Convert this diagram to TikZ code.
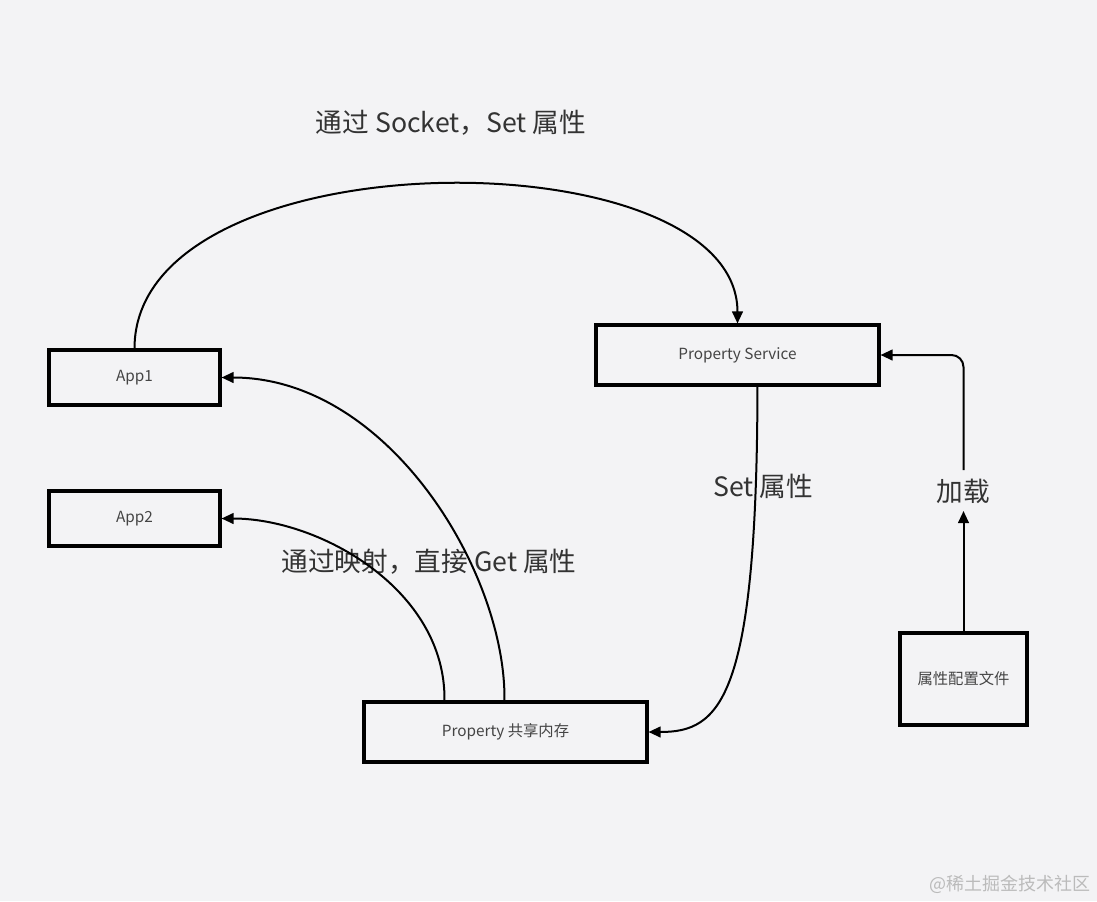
\documentclass[tikz,border=0pt]{standalone}
\usepackage{fontspec}
\setmainfont{Noto Sans CJK SC}
\usetikzlibrary{arrows.meta,calc}
\definecolor{bgc}{HTML}{F3F3F5}
\definecolor{txt}{HTML}{333333}
\definecolor{boxtxt}{HTML}{444444}
\definecolor{wm}{HTML}{BBBBBB}
\tikzset{
  box/.style={draw=black, line width=2.3pt, fill=bgc, inner sep=0pt, text=boxtxt,
    font=\fontsize{11.5}{14}\selectfont},
  biglabel/.style={text=txt, inner sep=0pt, font=\fontsize{20}{24}\selectfont},
  conn/.style={line width=1.5pt, draw=black, -{Triangle[length=9pt,width=8pt]}},
  plain/.style={line width=1.5pt, draw=black}
}
\begin{document}
\begin{tikzpicture}[x=0.75pt,y=-0.75pt]
\fill[bgc] (0,0) rectangle (1097,901);
\useasboundingbox (0,0) rectangle (1097,901);

\node[box, minimum width=128.25pt, minimum height=41.25pt] (app1) at (134.5,377.5) {App1};
\node[box, minimum width=128.25pt, minimum height=41.25pt] (app2) at (134.5,518.5) {App2};
\node[box, minimum width=212.25pt, minimum height=45pt] (ps) at (737.5,355) {Property Service};
\node[box, minimum width=212.25pt, minimum height=45pt] (mem) at (505.5,732) {Property 共享内存};
\node[box, minimum width=95.25pt, minimum height=69pt] (cfg) at (963.5,679) {属性配置文件};

\node[biglabel] (l1) at (451,123) {通过 Socket，Set 属性};
\node[biglabel] (l2) at (763,486) {Set 属性};
\node[biglabel] (l3) at (429,562) {通过映射，直接 Get 属性};
\node[biglabel] (l4) at (963.5,491) {加载};
\node[text=wm, inner sep=0pt, anchor=east, font=\fontsize{13.5}{16}\selectfont] (wmk) at (1091,884) {@稀土掘金技术社区};

% App1 -> Property Service
\draw[conn] (app1.north) .. controls (134.5,134) and (737.5,134) .. (ps.north);
% shared memory -> App1
\coordinate (m1) at ($(mem.north west)+(142,0)$);
\draw[conn] (m1) .. controls (506,572) and (388,377.5) .. (app1.east);
% shared memory -> App2
\coordinate (m2) at ($(mem.north west)+(82,0)$);
\draw[conn] (m2) .. controls (446,590) and (320,518.5) .. (app2.east);
% Property Service -> shared memory
\coordinate (p1) at ($(ps.south west)+(163,0)$);
\draw[conn] (p1) .. controls (757,700) and (720,732) .. (mem.east);
% config -> Property Service
\coordinate (k0) at (963.5,511);
\coordinate (k1) at (963.5,470);
\draw[conn] (cfg.north) -- (k0);
\draw[conn, rounded corners=9pt] (k1) |- (ps.east);
\end{tikzpicture}
\end{document}
